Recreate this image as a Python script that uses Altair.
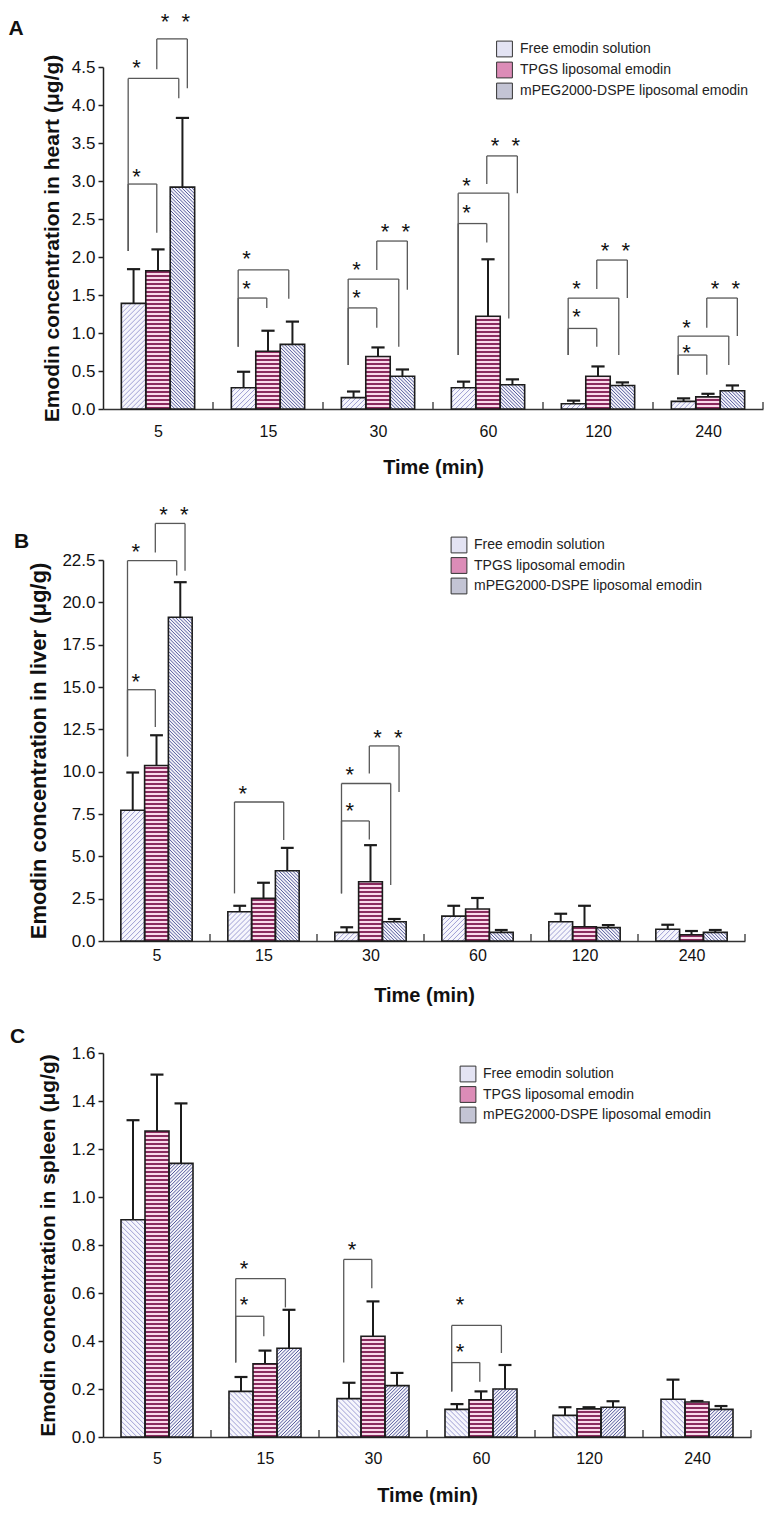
import json
import altair as alt
import pandas as pd

TIMES = ["5", "15", "30", "60", "120", "240"]
SERIES = ["Free emodin solution", "TPGS liposomal emodin", "mPEG2000-DSPE liposomal emodin"]

# ---- Heart (panel A) ----
HEART_FREE = [1.39, 0.28, 0.15, 0.28, 0.07, 0.10]
HEART_FREE_SD = [0.45, 0.21, 0.08, 0.08, 0.04, 0.04]
HEART_TPGS = [1.82, 0.76, 0.69, 1.22, 0.43, 0.16]
HEART_TPGS_SD = [0.28, 0.27, 0.12, 0.75, 0.13, 0.04]
HEART_MPEG = [2.92, 0.85, 0.43, 0.32, 0.31, 0.24]
HEART_MPEG_SD = [0.91, 0.30, 0.09, 0.07, 0.04, 0.07]
HEART_TICKS = [0.0, 0.5, 1.0, 1.5, 2.0, 2.5, 3.0, 3.5, 4.0, 4.5]
# significance brackets: (time, pair, bracket top, left end, right end, label, label height)
HEART_SIG = [
    ("5", "FT", 2.96, 2.08, 2.32, "*", 3.12),
    ("5", "FM", 4.35, 2.08, 4.09, "*", 4.55),
    ("5", "TM", 4.87, 4.47, 4.22, "**", 5.16),
    ("15", "FT", 1.46, 0.82, 1.33, "*", 1.64),
    ("15", "FM", 1.83, 0.82, 1.45, "*", 2.04),
    ("30", "FT", 1.33, 0.58, 1.07, "*", 1.53),
    ("30", "FM", 1.71, 0.58, 0.82, "*", 1.90),
    ("30", "TM", 2.21, 1.83, 1.57, "**", 2.40),
    ("60", "FT", 2.44, 0.71, 2.19, "*", 2.64),
    ("60", "FM", 2.84, 0.71, 1.19, "*", 3.00),
    ("60", "TM", 3.33, 2.96, 2.84, "**", 3.52),
    ("120", "FT", 1.06, 0.71, 0.82, "*", 1.27),
    ("120", "FM", 1.46, 0.71, 0.71, "*", 1.64),
    ("120", "TM", 1.96, 1.58, 1.46, "**", 2.14),
    ("240", "FT", 0.71, 0.45, 0.45, "*", 0.80),
    ("240", "FM", 0.96, 0.45, 0.58, "*", 1.13),
    ("240", "TM", 1.46, 1.07, 0.96, "**", 1.64),
]

# ---- Liver (panel B) ----
LIVER_FREE = [7.72, 1.73, 0.51, 1.47, 1.14, 0.69]
LIVER_FREE_SD = [2.23, 0.35, 0.30, 0.61, 0.47, 0.27]
LIVER_TPGS = [10.36, 2.52, 3.50, 1.89, 0.84, 0.37]
LIVER_TPGS_SD = [1.79, 0.92, 2.16, 0.65, 1.24, 0.22]
LIVER_MPEG = [19.12, 4.15, 1.14, 0.51, 0.79, 0.51]
LIVER_MPEG_SD = [2.07, 1.35, 0.16, 0.14, 0.15, 0.14]
LIVER_TICKS = [0.0, 2.5, 5.0, 7.5, 10.0, 12.5, 15.0, 17.5, 20.0, 22.5]
LIVER_SIG = [
    ("5", "FT", 14.84, 10.9, 12.64, "*", 15.58),
    ("5", "FM", 22.46, 10.9, 21.58, "*", 23.25),
    ("5", "TM", 24.66, 22.95, 21.87, "**", 25.45),
    ("15", "FM", 8.21, 2.81, 5.96, "*", 9.0),
    ("30", "FT", 7.09, 2.81, 6.0, "*", 7.96),
    ("30", "FM", 9.30, 2.81, 3.30, "*", 10.08),
    ("30", "TM", 11.52, 9.89, 8.80, "**", 12.30),
]

# ---- Spleen (panel C) ----
SPLEEN_FREE = [0.905, 0.19, 0.16, 0.115, 0.09, 0.157]
SPLEEN_FREE_SD = [0.415, 0.06, 0.066, 0.022, 0.034, 0.082]
SPLEEN_TPGS = [1.275, 0.305, 0.42, 0.155, 0.117, 0.146]
SPLEEN_TPGS_SD = [0.235, 0.055, 0.145, 0.035, 0.007, 0.004]
SPLEEN_MPEG = [1.14, 0.37, 0.214, 0.20, 0.124, 0.115]
SPLEEN_MPEG_SD = [0.25, 0.16, 0.053, 0.10, 0.025, 0.014]
SPLEEN_TICKS = [0.0, 0.2, 0.4, 0.6, 0.8, 1.0, 1.2, 1.4, 1.6]
SPLEEN_SIG = [
    ("15", "FT", 0.503, 0.31, 0.42, "*", 0.57),
    ("15", "FM", 0.66, 0.31, 0.54, "*", 0.72),
    ("30", "FT", 0.74, 0.31, 0.62, "*", 0.80),
    ("60", "FT", 0.31, 0.19, 0.23, "*", 0.375),
    ("60", "FM", 0.465, 0.19, 0.35, "*", 0.57),
]

# ---- styling ----
FONT = "Liberation Sans"
BW = 0.2222              # bar width as a fraction of a time band
CAP = 0.27 * BW          # half width of the error-bar cap
PAIR_LEGS = {"FT": (-0.22, 0.95), "FM": (-0.22, 1.85), "TM": (0.95, 2.2)}
BASE_FILL = ["#f6f6fc", "#f9d9ea", "#f3f3f9"]
HATCH_COL = ["#9595cf", "#444892"]
STRIPE = "#8a2b5e"
LEG_COL = ["#e3e3f3", "#dc8cb7", "#c3c4d4"]
INK = "#1c1c1c"
BRK = "#585858"


def build_panel(letter, series_vals, sig, ymax, yticks, W, H, ytitle, ytitle_size,
                xlab_pad, xtit_pad, ytit_pad, letter_xy, leg, free_dir):
    n = len(TIMES)
    pxx = W / n
    pxy = H / ymax
    wb = BW * pxx
    rows = []
    for j, (mv, sv) in enumerate(series_vals):
        for i, t in enumerate(TIMES):
            rows.append(dict(time=t, gi=i, si=j, series=SERIES[j], mean=mv[i], sd=sv[i]))
    df = pd.DataFrame(rows)

    XS = alt.Scale(domain=[0, n], nice=False, zero=False)
    YS = alt.Scale(domain=[0, ymax], nice=False, zero=True)

    xaxis = alt.Axis(values=[i + 0.5 for i in range(n)],
                     labelExpr=f"{json.dumps(TIMES)}[floor(datum.value)]",
                     title="Time (min)", ticks=False, grid=False, labelOverlap=False,
                     labelFontSize=16, labelPadding=xlab_pad, labelColor="#111",
                     titleFontSize=20, titleFontWeight="bold", titlePadding=xtit_pad,
                     titleColor="#111", domainColor="#333", domainWidth=1.5,
                     labelFont=FONT, titleFont=FONT)
    yaxis = alt.Axis(values=yticks, format=".1f", title=ytitle, grid=False, labelOverlap=False,
                     tickSize=5, tickColor="#222", tickWidth=1.5,
                     labelFontSize=17, labelPadding=3, labelColor="#111",
                     titleFontSize=ytitle_size, titleFontWeight="bold", titlePadding=ytit_pad,
                     titleColor="#111", domainColor="#222", domainWidth=1.5,
                     labelFont=FONT, titleFont=FONT)

    # every layer carries the same axis definition so that the merged axis keeps it
    def X(f):
        return alt.X(f, scale=XS, axis=xaxis)

    def Y(f):
        return alt.Y(f, scale=YS, axis=yaxis)

    base = alt.Chart(df).transform_calculate(
        xc=f"datum.gi + 0.5 + (datum.si - 1) * {BW}",
        xl=f"datum.gi + 0.5 + (datum.si - 1.5) * {BW}",
        xr=f"datum.gi + 0.5 + (datum.si - 0.5) * {BW}",
        up="datum.mean + datum.sd",
        hp=f"datum.mean * {pxy}",
    )

    bars = base.mark_rect(strokeWidth=0).encode(
        x=X("xl:Q"), x2="xr:Q",
        y=Y("mean:Q"), y2=alt.datum(0),
        fill=alt.Fill("series:N", scale=alt.Scale(domain=SERIES, range=BASE_FILL), legend=None),
    )

    hatch = base.transform_filter("datum.si != 1").transform_calculate(
        cs=f"sequence(-datum.hp, {wb}, datum.si == 0 ? 5 : 3.4)"
    ).transform_flatten(["cs"], as_=["c"]).transform_calculate(
        vs="max(0, -datum.c)",
        ve=f"min(datum.hp, {wb} - datum.c)",
    ).transform_filter("datum.ve > datum.vs + 0.2").transform_calculate(
        d=f"datum.si == 0 ? {free_dir} : {-free_dir}",
        u1="datum.vs + datum.c",
        u2="datum.ve + datum.c",
    ).transform_calculate(
        hx1=f"datum.xl + (datum.d > 0 ? datum.u1 : {wb} - datum.u1) / {pxx}",
        hx2=f"datum.xl + (datum.d > 0 ? datum.u2 : {wb} - datum.u2) / {pxx}",
        hy1=f"datum.vs / {pxy}",
        hy2=f"datum.ve / {pxy}",
    ).mark_rule(strokeWidth=0.9).encode(
        x=X("hx1:Q"), x2="hx2:Q",
        y=Y("hy1:Q"), y2="hy2:Q",
        stroke=alt.Stroke("series:N", scale=alt.Scale(domain=[SERIES[0], SERIES[2]], range=HATCH_COL), legend=None),
    )

    stripes = base.transform_filter("datum.si == 1").transform_calculate(
        lv="sequence(0, datum.hp - 0.5, 4)"
    ).transform_flatten(["lv"]).transform_calculate(
        sy1=f"datum.lv / {pxy}",
        sy2=f"min(datum.lv + 2, datum.hp) / {pxy}",
    ).mark_rect(color=STRIPE, strokeWidth=0).encode(
        x=X("xl:Q"), x2="xr:Q", y=Y("sy1:Q"), y2="sy2:Q",
    )

    outline = base.mark_rect(fillOpacity=0, stroke=INK, strokeWidth=1.6).encode(
        x=X("xl:Q"), x2="xr:Q", y=Y("mean:Q"), y2=alt.datum(0),
    )

    err = base.mark_rule(color=INK, strokeWidth=2).encode(
        x=X("xc:Q"), y=Y("mean:Q"), y2="up:Q",
    )
    caps = base.transform_calculate(
        c1=f"datum.xc - {CAP}", c2=f"datum.xc + {CAP}"
    ).mark_rule(color=INK, strokeWidth=2.2).encode(
        x=X("c1:Q"), x2="c2:Q", y=Y("up:Q"),
    )

    brows = []
    for (t, pair, top, lb, rb, lab, ly) in sig:
        lp, rp = PAIR_LEGS[pair]
        brows.append(dict(gi=TIMES.index(t), lp=lp, rp=rp, top=top, lb=lb, rb=rb,
                          lab=("*\u00a0\u00a0*" if lab == "**" else lab), ly=ly))
    bdf = pd.DataFrame(brows)
    brk = alt.Chart(bdf).transform_calculate(
        lx=f"datum.gi + 0.5 + (datum.lp - 1) * {BW}",
        rx=f"datum.gi + 0.5 + (datum.rp - 1) * {BW}",
    )
    hline = brk.mark_rule(color=BRK, strokeWidth=1.3).encode(
        x=X("lx:Q"), x2="rx:Q", y=Y("top:Q"))
    lleg = brk.mark_rule(color=BRK, strokeWidth=1.3).encode(
        x=X("lx:Q"), y=Y("lb:Q"), y2="top:Q")
    rleg = brk.mark_rule(color=BRK, strokeWidth=1.3).encode(
        x=X("rx:Q"), y=Y("rb:Q"), y2="top:Q")
    stars = brk.mark_text(align="left", baseline="middle", dx=4, dy=5, fontSize=22,
                          font=FONT, color="#111").encode(
        x=X("lx:Q"), y=Y("ly:Q"), text="lab:N")

    tdf = pd.DataFrame({"b": list(range(1, n + 1))})
    bticks = alt.Chart(tdf).mark_rule(color="#333", strokeWidth=1.3).encode(
        x=X("b:Q"), y=alt.value(H), y2=alt.value(H - 7))

    # legend drawn as marks
    sq_x, tx_x, r0, dr = leg
    leg_layers = []
    for k, s in enumerate(SERIES):
        ldf = pd.DataFrame({"series": [s]})
        leg_layers.append(alt.Chart(ldf).mark_square(
            size=250, opacity=1, stroke="#333", strokeWidth=1, color=LEG_COL[k]).encode(
            x=alt.value(sq_x), y=alt.value(r0 + k * dr)))
        leg_layers.append(alt.Chart(ldf).mark_text(
            align="left", baseline="middle", fontSize=14, font=FONT, color="#222").encode(
            x=alt.value(tx_x), y=alt.value(r0 + k * dr), text="series:N"))

    lchart = alt.Chart(pd.DataFrame({"t": [letter]})).mark_text(
        fontSize=21, fontWeight="bold", font=FONT, align="center", baseline="middle",
        color="#111").encode(x=alt.value(letter_xy[0]), y=alt.value(letter_xy[1]), text="t:N")

    return alt.layer(bars, hatch, stripes, outline, err, caps, hline, lleg, rleg, stars,
                     bticks, *leg_layers, lchart).properties(width=W, height=H)


pA = build_panel("A", [(HEART_FREE, HEART_FREE_SD), (HEART_TPGS, HEART_TPGS_SD), (HEART_MPEG, HEART_MPEG_SD)],
                 HEART_SIG, 4.5, HEART_TICKS, 660, 342, "Emodin concentration in heart (\u03bcg/g)", 21,
                 14, 18, 9, (-87, -38), (401.5, 417, -18, 21), 1)
pB = build_panel("B", [(LIVER_FREE, LIVER_FREE_SD), (LIVER_TPGS, LIVER_TPGS_SD), (LIVER_MPEG, LIVER_MPEG_SD)],
                 LIVER_SIG, 22.5, LIVER_TICKS, 642, 381, "Emodin concentration in liver (\u03bcg/g)", 22,
                 6, 22, 11, (-81.5, -18), (356, 371, -15, 20.5), 1)
pC = build_panel("C", [(SPLEEN_FREE, SPLEEN_FREE_SD), (SPLEEN_TPGS, SPLEEN_TPGS_SD), (SPLEEN_MPEG, SPLEEN_MPEG_SD)],
                 SPLEEN_SIG, 1.6, SPLEEN_TICKS, 648, 384, "Emodin concentration in spleen (\u03bcg/g)", 21,
                 13, 19, 13, (-85.5, -16), (365, 380, 21, 20.5), -1)

chart = alt.vconcat(alt.vconcat(pA, pB, spacing=27), pC, spacing=21).properties(
    padding={"left": 0, "top": 2, "right": 0, "bottom": 0}
).configure(background="white").configure_view(strokeWidth=0)

chart.save("out.html", embed_options={"renderer": "svg", "actions": False})
